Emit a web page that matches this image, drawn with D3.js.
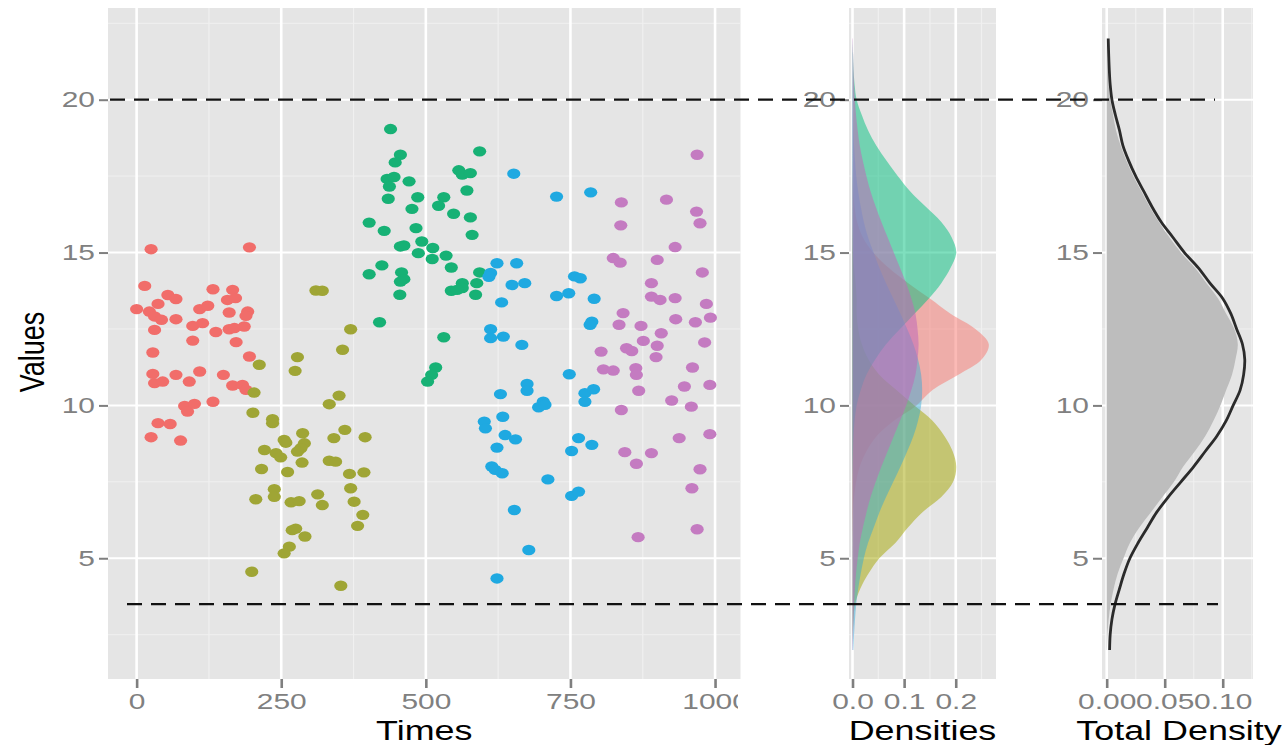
<!DOCTYPE html>
<html><head><meta charset="utf-8">
<script src="https://cdn.jsdelivr.net/npm/d3@7"></script>
<style>body{margin:0;background:#fff}svg{display:block}</style>
</head><body>
<svg id="c" width="1285" height="745"></svg>
<script>
// ---------------- data ----------------
const groupNames = ["1","2","3","4","5"];
const pointColors = ["#F16D6A","#9FA535","#17B175","#1FA9E1","#C47BC1"];
const fillColors  = ["#F8766D","#A3A500","#00BF7D","#2AA8DA","#C06AB8"];

const group1 = [[25,15.11],[195,15.17],[14,13.91],[54,13.61],[68,13.48],[132,13.80],[166,13.78],[157,13.45],[171,13.51],[0,13.15],[22,13.07],[37,13.32],[31,12.91],[43,12.80],[68,12.82],[109,13.15],[123,13.26],[160,13.04],[192,13.07],[189,12.93],[31,12.47],[97,12.60],[114,12.69],[137,12.40],[160,12.49],[169,12.53],[186,12.58],[97,12.12],[172,12.07],[28,11.73],[195,11.60],[28,11.03],[31,10.73],[45,10.78],[68,11.00],[91,10.78],[109,11.11],[150,11.00],[166,10.65],[183,10.67],[189,10.51],[83,9.98],[88,9.80],[100,10.05],[132,10.12],[37,9.42],[58,9.39],[25,8.96],[76,8.85]];
const group2 = [[370,12.49],[356,11.82],[278,11.58],[274,11.13],[212,11.33],[203,10.42],[350,10.32],[333,10.04],[201,9.76],[235,9.55],[235,9.42],[287,9.09],[360,9.20],[341,8.93],[395,8.96],[255,8.87],[258,8.78],[221,8.54],[290,8.76],[284,8.60],[278,8.49],[241,8.44],[249,8.30],[333,8.19],[344,8.16],[286,8.13],[216,7.92],[261,7.82],[368,7.76],[393,7.81],[370,7.29],[238,7.26],[238,7.01],[206,6.93],[313,7.09],[321,6.74],[267,6.83],[281,6.87],[376,6.85],[391,6.42],[382,6.06],[269,5.92],[275,5.97],[291,5.71],[264,5.38],[255,5.16],[199,4.56],[353,4.10],[310,13.76],[321,13.75]];
const group3 = [[439,19.04],[456,18.20],[447,17.95],[593,18.31],[433,17.41],[445,17.47],[437,17.16],[471,17.33],[557,17.69],[563,17.55],[577,17.60],[571,17.03],[435,16.76],[486,16.81],[531,16.81],[522,16.53],[476,16.43],[548,16.27],[577,16.15],[402,15.98],[428,15.71],[483,15.80],[580,15.58],[493,15.36],[456,15.20],[462,15.23],[512,15.15],[487,14.98],[511,14.79],[535,14.90],[544,14.51],[424,14.58],[402,14.29],[458,14.35],[462,14.13],[456,14.05],[593,14.35],[563,14.00],[588,14.00],[544,13.75],[563,13.84],[586,13.62],[455,13.62],[420,12.72],[531,12.23],[517,11.24],[510,11.00],[503,10.78],[554,13.78]];
const group4 = [[652,17.58],[726,16.83],[785,16.97],[623,14.65],[657,14.65],[612,14.33],[609,14.21],[649,13.94],[671,14.00],[631,13.37],[726,13.58],[747,13.67],[757,14.22],[767,14.16],[791,13.49],[612,12.49],[612,12.20],[634,12.25],[666,11.98],[787,12.74],[784,12.64],[748,11.02],[675,10.70],[675,10.48],[629,10.37],[703,10.12],[695,9.94],[706,10.02],[775,10.40],[790,10.53],[775,10.12],[601,9.47],[603,9.25],[633,9.63],[637,9.03],[655,8.89],[623,8.62],[764,8.93],[787,8.71],[752,8.51],[614,8.00],[620,7.89],[632,7.78],[711,7.58],[752,7.04],[764,7.18],[653,6.58],[678,5.27],[623,4.34]];
const group5 = [[969,18.20],[838,16.64],[916,16.73],[968,16.34],[974,15.96],[837,15.89],[931,15.18],[824,14.82],[836,14.67],[900,14.76],[978,14.35],[890,14.00],[890,13.56],[905,13.45],[931,13.51],[985,13.32],[841,13.02],[834,12.64],[872,12.60],[932,12.82],[966,12.72],[992,12.87],[907,12.36],[876,12.11],[847,11.87],[856,11.78],[900,11.95],[898,11.58],[982,12.06],[803,11.76],[807,11.18],[824,11.14],[863,11.22],[864,11.00],[961,11.24],[868,10.48],[947,10.62],[991,10.67],[925,10.16],[959,9.96],[838,9.85],[991,9.06],[938,8.93],[844,8.47],[890,8.44],[864,8.09],[974,7.91],[960,7.29],[969,5.95],[867,5.69]];

// density curves, on a common grid of values
const densityGrid = [2,2.5,3,3.5,4,4.5,5,5.5,6,6.5,7,7.5,8,8.5,9,9.5,10,10.5,11,11.5,12,12.5,13,13.5,14,14.5,15,15.5,16,16.5,17,17.5,18,18.5,19,19.5,20,20.5,21,21.5,22];
const density1 = [0,0,0,0,0,0,0,0,0.0005,0.001,0.003,0.007,0.014,0.027,0.047,0.08,0.124,0.155,0.205,0.25,0.264,0.238,0.19,0.15,0.108,0.07,0.04,0.02,0.009,0.004,0.0015,0.0005,0,0,0,0,0,0,0,0,0];
const density2 = [0,0.0005,0.002,0.005,0.015,0.031,0.052,0.083,0.107,0.135,0.172,0.195,0.201,0.194,0.178,0.155,0.12,0.085,0.052,0.031,0.018,0.011,0.008,0.008,0.006,0.003,0.001,0.0005,0,0,0,0,0,0,0,0,0,0,0,0,0];
const density3 = [0,0,0,0,0,0,0,0,0,0,0,0,0.0005,0.001,0.002,0.004,0.008,0.016,0.027,0.044,0.065,0.092,0.12,0.148,0.172,0.19,0.201,0.192,0.172,0.142,0.112,0.088,0.066,0.046,0.03,0.018,0.008,0.004,0.002,0.001,0];
const density4 = [0.0018,0.003,0.0048,0.0073,0.011,0.016,0.022,0.03,0.041,0.052,0.065,0.079,0.093,0.106,0.118,0.127,0.133,0.135,0.133,0.127,0.118,0.106,0.093,0.079,0.065,0.052,0.041,0.03,0.022,0.016,0.011,0.0073,0.0048,0.003,0.0018,0.001,0.0006,0.0004,0.0002,0.0001,0];
const density5 = [0.0007,0.0012,0.0019,0.003,0.0046,0.0068,0.01,0.014,0.02,0.027,0.035,0.045,0.056,0.068,0.08,0.092,0.104,0.114,0.122,0.126,0.128,0.126,0.122,0.114,0.104,0.092,0.08,0.068,0.056,0.045,0.035,0.027,0.02,0.014,0.01,0.0068,0.0046,0.003,0.0019,0.0012,0.0007];
const totalDensity = [0.0002,0.0007,0.0017,0.0034,0.006,0.0095,0.0145,0.02,0.028,0.038,0.048,0.058,0.066,0.076,0.085,0.092,0.098,0.103,0.108,0.111,0.113,0.110,0.103,0.096,0.086,0.076,0.064,0.054,0.045,0.037,0.030,0.023,0.017,0.012,0.008,0.0055,0.003,0.0017,0.001,0.0005,0];
const normalFit = [0.0025,0.003,0.0045,0.0072,0.011,0.015,0.02,0.027,0.035,0.043,0.053,0.064,0.075,0.085,0.095,0.103,0.109,0.115,0.118,0.119,0.117,0.112,0.107,0.100,0.089,0.079,0.067,0.057,0.047,0.039,0.032,0.025,0.019,0.014,0.011,0.0075,0.0045,0.003,0.0022,0.0017,0.0013];

const timeTicks = [0,250,500,750,1000];
const timeMinor = [125,375,625,875];
const valueTicks = [5,10,15,20];
const valueMinor = [2.5,7.5,12.5,17.5,22.5];
const densTicks = [0.0,0.1,0.2];
const densMinor = [0.05,0.15,0.25];
const totTicks = [0.00,0.05,0.10];
const totMinor = [0.025,0.075,0.125];
const refLines = [20,3.5];

// ---------------- layout ----------------
const SX = 1.33; // horizontal stretch of the reference
const FONT = "'Liberation Sans', Arial, Helvetica, sans-serif";
const svg = d3.select("#c");
const PT = 8, PB = 679;
const y = d3.scaleLinear().domain([1.05, 23.0]).range([PB, PT]);
const xT = d3.scaleLinear().domain([-49.5, 1044]).range([108, 740.5]);
const xD = d3.scaleLinear().domain([-0.0068, 0.278]).range([849, 996]);
const xS = d3.scaleLinear().domain([-0.00405, 0.1261]).range([1102, 1253]);

function panel(x, majors, minors) {
  const g = svg.append("g");
  const [x0, x1] = x.range();
  g.append("rect").attr("x", x0).attr("y", PT).attr("width", x1 - x0).attr("height", PB - PT).attr("fill", "#E5E5E5");
  g.selectAll(".vminor").data(minors).join("line")
    .attr("x1", d => x(d)).attr("x2", d => x(d)).attr("y1", PT).attr("y2", PB)
    .attr("stroke", "#F0F0F0").attr("stroke-width", 1.2);
  g.selectAll(".hminor").data(valueMinor).join("line")
    .attr("x1", x0).attr("x2", x1).attr("y1", d => y(d)).attr("y2", d => y(d))
    .attr("stroke", "#F0F0F0").attr("stroke-width", 1);
  g.selectAll(".vmajor").data(majors).join("line")
    .attr("x1", d => x(d)).attr("x2", d => x(d)).attr("y1", PT).attr("y2", PB)
    .attr("stroke", "#fff").attr("stroke-width", 2.6);
  g.selectAll(".hmajor").data(valueTicks).join("line")
    .attr("x1", x0).attr("x2", x1).attr("y1", d => y(d)).attr("y2", d => y(d))
    .attr("stroke", "#fff").attr("stroke-width", 2);
  return g;
}

const g1 = panel(xT, timeTicks, timeMinor);
const g2 = panel(xD, densTicks, densMinor);
const g3 = panel(xS, totTicks, totMinor);

// scatter points
const groups = [group1, group2, group3, group4, group5];
groups.forEach((pts, i) => {
  g1.append("g").selectAll("ellipse").data(pts).join("ellipse")
    .attr("cx", d => xT(d[0])).attr("cy", d => y(d[1]))
    .attr("rx", 6.6).attr("ry", 5.2)
    .attr("fill", pointColors[i]);
});

// group densities
const densities = [density1, density2, density3, density4, density5];
const fillOpacity = [0.5, 0.5, 0.5, 0.45, 0.55];
const areaD = d3.area().curve(d3.curveCatmullRom.alpha(0.5))
  .y((d, i) => y(densityGrid[i])).x0(xD(0)).x1(d => xD(d));
densities.forEach((dd, i) => {
  g2.append("path").datum(dd).attr("d", areaD)
    .attr("fill", fillColors[i]).attr("fill-opacity", fillOpacity[i]);
});

// total density + normal curve
const areaT = d3.area().curve(d3.curveCatmullRom.alpha(0.5))
  .y((d, i) => y(densityGrid[i])).x0(xS(0)).x1(d => xS(d));
g3.append("path").datum(totalDensity).attr("d", areaT).attr("fill", "#BDBDBD");
const lineN = d3.line().curve(d3.curveCatmullRom.alpha(0.5))
  .y((d, i) => y(densityGrid[i])).x(d => xS(d));
g3.append("path").datum(normalFit).attr("d", lineN)
  .attr("fill", "none").attr("stroke", "#2b2b2b").attr("stroke-width", 2.8);

// axes
svg.append("defs").append("clipPath").attr("id", "clipL")
  .append("rect").attr("x", 0).attr("y", 0).attr("width", 738).attr("height", 745);

function styleAxis(sel, isLeft) {
  sel.select(".domain").remove();
  sel.selectAll(".tick line").attr("stroke", "#7F7F7F").attr("stroke-width", isLeft ? 2 : 2.6);
  sel.selectAll(".tick text").attr("fill", "#808080").style("font-size", "22.5px").style("font-family", FONT);
  if (isLeft) {
    sel.selectAll(".tick text").each(function () {
      const t = d3.select(this);
      const xv = +t.attr("x");
      t.attr("x", xv / SX).attr("transform", `scale(${SX},1)`);
    });
  } else {
    sel.selectAll(".tick text").attr("transform", `scale(${SX},1)`);
  }
}

function leftAxis(x) {
  const a = svg.append("g").attr("transform", `translate(${x.range()[0]},0)`)
    .call(d3.axisLeft(y).tickValues(valueTicks).tickSize(9).tickPadding(4).tickFormat(d3.format("d")));
  styleAxis(a, true);
}
function bottomAxis(x, ticks, fmt, clip) {
  const a = svg.append("g").attr("transform", `translate(0,${PB})`)
    .call(d3.axisBottom(x).tickValues(ticks).tickSize(9).tickPadding(5).tickFormat(fmt));
  styleAxis(a, false);
  if (clip) a.attr("clip-path", "url(#clipL)");
}
leftAxis(xT); leftAxis(xD); leftAxis(xS);
bottomAxis(xT, timeTicks, d3.format("d"), true);
bottomAxis(xD, densTicks, d3.format(".1f"), false);
bottomAxis(xS, totTicks, d3.format(".2f"), false);

// titles
function title(txt, cx, cy, rot) {
  svg.append("text")
    .attr("transform", `translate(${cx},${cy}) scale(${SX},1)` + (rot ? " rotate(-90)" : ""))
    .attr("text-anchor", "middle").style("font-size", "27px").style("font-family", FONT)
    .attr("fill", "#000").text(txt);
}
title("Times", (xT.range()[0] + xT.range()[1]) / 2, 740, false);
title("Densities", (xD.range()[0] + xD.range()[1]) / 2, 740, false);
title("Total Density", 1179, 740, false);
title("Values", 44, 352, true);

// dashed reference lines
const refStart = [110, 127], refEnd = [1215, 1218];
svg.append("g").selectAll("line").data(refLines).join("line")
  .attr("x1", (d, i) => refStart[i]).attr("x2", (d, i) => refEnd[i])
  .attr("y1", d => y(d)).attr("y2", d => y(d))
  .attr("stroke", "#111").attr("stroke-width", 2.3).attr("stroke-dasharray", "15,9");
</script>
</body></html>
